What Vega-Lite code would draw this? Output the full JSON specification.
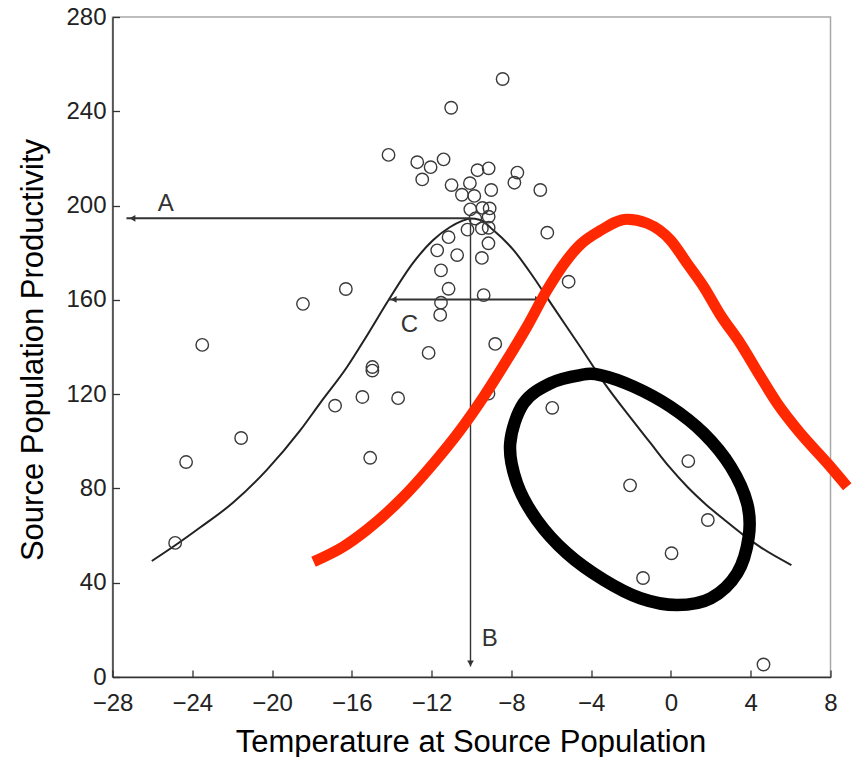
{
  "$schema": "https://vega.github.io/schema/vega-lite/v6.json",
  "width": 718,
  "height": 660,
  "autosize": {"type": "none"},
  "padding": {"left": 112.5, "top": 17, "right": 27.5, "bottom": 80},
  "background": "white",
  "config": {
    "view": {"stroke": "#a8a8a8", "strokeWidth": 1.5},
    "font": "Liberation Sans"
  },
  "datasets": {
    "points": [
      {"x": -24.86, "y": 56.9}, {"x": -24.31, "y": 91.2}, {"x": -23.5, "y": 140.9}, {"x": -21.55, "y": 101.4},
      {"x": -18.45, "y": 158.3}, {"x": -16.3, "y": 164.6}, {"x": -16.84, "y": 115.1}, {"x": -15.47, "y": 118.8},
      {"x": -14.97, "y": 131.5}, {"x": -14.97, "y": 130.0}, {"x": -15.08, "y": 93.0}, {"x": -13.68, "y": 118.3},
      {"x": -12.15, "y": 137.5}, {"x": -14.16, "y": 221.5}, {"x": -11.57, "y": 153.6}, {"x": -11.53, "y": 158.8},
      {"x": -11.15, "y": 164.7}, {"x": -11.53, "y": 172.5}, {"x": -11.72, "y": 181.0}, {"x": -11.15, "y": 186.6},
      {"x": -10.72, "y": 179.0}, {"x": -10.2, "y": 189.8}, {"x": -9.48, "y": 190.3}, {"x": -9.14, "y": 190.6},
      {"x": -9.15, "y": 184.0}, {"x": -9.48, "y": 177.8}, {"x": -9.39, "y": 162.0}, {"x": -8.81, "y": 141.3},
      {"x": -9.15, "y": 120.2}, {"x": -6.2, "y": 188.5}, {"x": -5.13, "y": 167.7}, {"x": -5.95, "y": 114.2},
      {"x": -8.44, "y": 253.7}, {"x": -11.02, "y": 241.5}, {"x": -12.72, "y": 218.4}, {"x": -12.05, "y": 216.3},
      {"x": -11.4, "y": 219.6}, {"x": -12.47, "y": 211.1}, {"x": -11.0, "y": 208.7}, {"x": -10.48, "y": 204.6},
      {"x": -10.08, "y": 209.5}, {"x": -9.86, "y": 204.1}, {"x": -9.7, "y": 215.0}, {"x": -9.14, "y": 215.8},
      {"x": -9.01, "y": 206.6}, {"x": -7.7, "y": 214.0}, {"x": -7.85, "y": 209.7}, {"x": -6.55, "y": 206.6},
      {"x": -10.06, "y": 198.4}, {"x": -9.45, "y": 199.0}, {"x": -9.09, "y": 198.8}, {"x": -9.81, "y": 194.5},
      {"x": -9.14, "y": 195.3}, {"x": -2.05, "y": 81.3}, {"x": 0.87, "y": 91.6}, {"x": 1.85, "y": 66.6},
      {"x": 0.03, "y": 52.5}, {"x": -1.4, "y": 42.0}, {"x": 4.64, "y": 5.3}
    ],
    "curve": [
      {"x": -26.03, "y": 49.2}, {"x": -24.78, "y": 56.3}, {"x": -23.61, "y": 63.4}, {"x": -21.95, "y": 74.0},
      {"x": -20.25, "y": 88.0}, {"x": -18.59, "y": 104.6}, {"x": -17.59, "y": 116.2}, {"x": -16.24, "y": 131.5},
      {"x": -15.23, "y": 145.0}, {"x": -14.18, "y": 159.6}, {"x": -12.92, "y": 175.8}, {"x": -11.92, "y": 185.4},
      {"x": -11.07, "y": 190.9}, {"x": -10.47, "y": 193.5}, {"x": -10.06, "y": 194.5}, {"x": -9.56, "y": 193.9},
      {"x": -8.91, "y": 189.6}, {"x": -7.9, "y": 181.2}, {"x": -6.9, "y": 169.7}, {"x": -5.9, "y": 157.0},
      {"x": -4.54, "y": 140.0}, {"x": -3.34, "y": 124.7}, {"x": -1.93, "y": 109.0}, {"x": -1.03, "y": 99.3},
      {"x": -0.08, "y": 89.1}, {"x": 0.83, "y": 80.6}, {"x": 1.78, "y": 73.0}, {"x": 2.69, "y": 66.6},
      {"x": 3.64, "y": 60.2}, {"x": 4.56, "y": 54.7}, {"x": 6.04, "y": 47.5}
    ],
    "red": [
      {"x": -17.92, "y": 48.9}, {"x": -16.42, "y": 55.3}, {"x": -15.25, "y": 62.4}, {"x": -13.57, "y": 75.1},
      {"x": -11.9, "y": 90.7}, {"x": -10.56, "y": 104.8}, {"x": -9.39, "y": 118.9}, {"x": -8.22, "y": 134.5},
      {"x": -7.22, "y": 148.6}, {"x": -6.21, "y": 164.2}, {"x": -5.21, "y": 177.0}, {"x": -4.54, "y": 183.5},
      {"x": -3.54, "y": 189.4}, {"x": -2.2, "y": 194.2}, {"x": -1.2, "y": 192.5}, {"x": -0.03, "y": 185.4},
      {"x": 0.81, "y": 175.5}, {"x": 1.64, "y": 165.6}, {"x": 2.48, "y": 153.6}, {"x": 3.48, "y": 141.5},
      {"x": 4.49, "y": 127.4}, {"x": 5.33, "y": 116.1}, {"x": 6.49, "y": 103.4}, {"x": 7.84, "y": 90.7},
      {"x": 8.84, "y": 80.7}
    ],
    "ellipse": [
      {"i": 1, "x": -4.54, "y": 128.1}, {"i": 2, "x": -6.05, "y": 124.6}, {"i": 3, "x": -7.39, "y": 116.1},
      {"i": 4, "x": -8.06, "y": 99.1}, {"i": 5, "x": -7.72, "y": 82.2}, {"i": 6, "x": -6.72, "y": 66.6},
      {"i": 7, "x": -5.21, "y": 52.5}, {"i": 8, "x": -3.37, "y": 41.2}, {"i": 9, "x": -1.53, "y": 33.4},
      {"i": 10, "x": 0.31, "y": 30.5}, {"i": 11, "x": 2.0, "y": 33.4}, {"i": 12, "x": 3.32, "y": 44.0},
      {"i": 13, "x": 3.9, "y": 59.5}, {"i": 14, "x": 3.82, "y": 73.7}, {"i": 15, "x": 3.0, "y": 89.2},
      {"i": 16, "x": 1.64, "y": 103.4}, {"i": 17, "x": -0.03, "y": 114.7}, {"i": 18, "x": -1.87, "y": 123.2},
      {"i": 19, "x": -3.54, "y": 128.1}
    ],
    "arrows": [
      {"name": "A", "x": -27.3, "y": 194.6, "x2": -10.05, "y2": 194.6, "w": 2},
      {"name": "B", "x": -10.05, "y": 194.6, "x2": -10.05, "y2": 4.5, "w": 1.4},
      {"name": "C", "x": -14.16, "y": 160.2, "x2": -6.41, "y2": 160.2, "w": 2}
    ],
    "heads": [
      {"x": -27.0, "y": 194.6, "shape": "triangle-left"},
      {"x": -13.9, "y": 160.2, "shape": "triangle-left"},
      {"x": -6.67, "y": 160.2, "shape": "triangle-right"},
      {"x": -10.05, "y": 5.8, "shape": "triangle-down"}
    ],
    "labels": [
      {"x": -25.33, "y": 200.7, "t": "A"},
      {"x": -9.09, "y": 16.0, "t": "B"},
      {"x": -13.11, "y": 149.3, "t": "C"}
    ]
  },
  "encoding": {
    "x": {
      "field": "x", "type": "quantitative",
      "scale": {"domain": [-28, 8], "nice": false, "zero": false},
      "axis": {
        "values": [-28, -24, -20, -16, -12, -8, -4, 0, 4, 8],
        "title": "Temperature at Source Population",
        "titleFont": "Liberation Sans", "titleFontSize": 31, "titleFontWeight": "normal", "titleColor": "#000",
        "titleX": 358, "titleY": 74, "titleBaseline": "alphabetic", "titleAlign": "center",
        "labelFont": "Liberation Sans", "labelFontSize": 24, "labelColor": "#222",
        "labelPadding": 21, "labelFlush": false, "labelOverlap": false,
        "domainColor": "#333", "domainWidth": 1.4,
        "tickColor": "#333", "tickSize": -7, "tickWidth": 1.3,
        "grid": false
      }
    },
    "y": {
      "field": "y", "type": "quantitative",
      "scale": {"domain": [0, 280], "nice": false, "zero": false},
      "axis": {
        "values": [0, 40, 80, 120, 160, 200, 240, 280],
        "title": "Source Population Productivity",
        "titleFont": "Liberation Sans", "titleFontSize": 31, "titleFontWeight": "normal", "titleColor": "#000",
        "titleX": -69.8, "titleY": 332.5, "titleBaseline": "alphabetic", "titleAngle": -90, "titleAlign": "center",
        "labelFont": "Liberation Sans", "labelFontSize": 24, "labelColor": "#222",
        "labelPadding": 13.5, "labelOffset": 0, "labelFlush": false, "labelOverlap": false,
        "domainColor": "#333", "domainWidth": 1.4,
        "tickColor": "#333", "tickSize": -7, "tickWidth": 1.3,
        "grid": false
      }
    }
  },
  "layer": [
    {
      "data": {"name": "curve"},
      "mark": {"type": "line", "color": "#222", "strokeWidth": 2, "interpolate": "monotone"}
    },
    {
      "data": {"name": "arrows"},
      "mark": {"type": "rule", "color": "#333"},
      "encoding": {
        "x2": {"field": "x2"},
        "y2": {"field": "y2"},
        "strokeWidth": {"field": "w", "type": "quantitative", "scale": null}
      }
    },
    {
      "data": {"name": "heads"},
      "mark": {"type": "point", "filled": true, "color": "#333", "size": 45, "opacity": 1},
      "encoding": {
        "shape": {"field": "shape", "type": "nominal", "scale": null}
      }
    },
    {
      "data": {"name": "labels"},
      "mark": {"type": "text", "font": "Liberation Sans", "fontSize": 24, "color": "#333", "align": "center", "baseline": "middle"},
      "encoding": {"text": {"field": "t"}}
    },
    {
      "data": {"name": "points"},
      "mark": {"type": "point", "shape": "circle", "filled": false, "size": 155, "color": "#3a3a3a", "strokeWidth": 1.4, "opacity": 1}
    },
    {
      "data": {"name": "red"},
      "mark": {"type": "line", "color": "#ff2800", "strokeWidth": 11, "interpolate": "monotone", "strokeCap": "butt", "clip": false}
    },
    {
      "data": {"name": "ellipse"},
      "mark": {"type": "line", "color": "#000", "strokeWidth": 12.5, "interpolate": "cardinal-closed"},
      "encoding": {"order": {"field": "i", "type": "quantitative"}}
    }
  ]
}
